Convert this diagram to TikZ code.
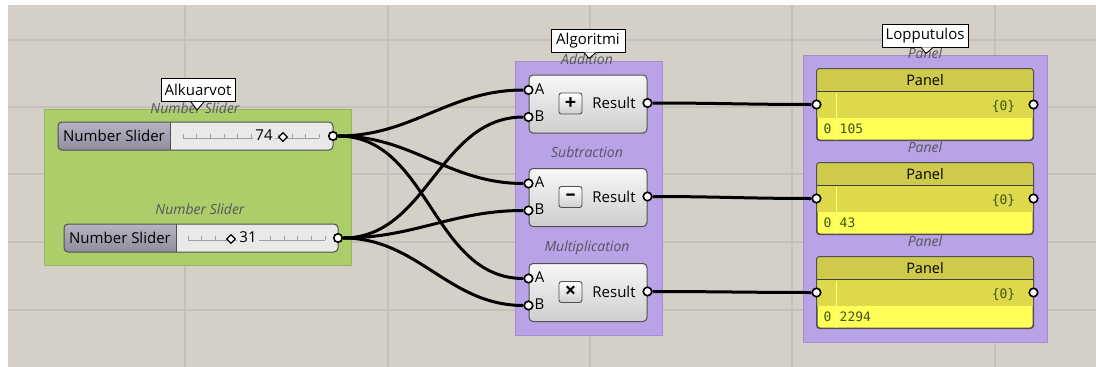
\documentclass[tikz,border=0pt]{standalone}
\usepackage{fontspec}
\setmainfont{Open Sans}
\setmonofont{DejaVu Sans Mono}
\usetikzlibrary{calc}

\definecolor{canvas}{RGB}{212,208,200}
\definecolor{gridline}{RGB}{197,193,185}
\definecolor{grpgreen}{RGB}{172,206,106}
\definecolor{grppurple}{RGB}{186,162,230}
\definecolor{comptop}{RGB}{247,247,247}
\definecolor{compbot}{RGB}{206,206,206}
\definecolor{compedge}{RGB}{80,80,80}
\definecolor{labtop}{RGB}{180,180,194}
\definecolor{labbot}{RGB}{142,142,158}
\definecolor{valbg}{RGB}{233,233,233}
\definecolor{panhead}{RGB}{207,202,76}
\definecolor{panmid}{RGB}{222,217,74}
\definecolor{panlow}{RGB}{255,255,88}
\definecolor{pantext}{RGB}{62,84,22}
\definecolor{capgray}{RGB}{85,85,95}

\tikzset{
  grp/.style={fill=#1, draw=#1!88!black, line width=0.8pt, inner sep=0pt},
  tag/.style={draw=black, fill=white, line width=0.9pt, inner sep=0pt,
    minimum height=23pt, font=\fontsize{15}{17}\selectfont},
  tagtail/.style={draw=black, fill=white, line width=0.9pt},
  caption/.style={font=\itshape\fontsize{14}{16}\selectfont, text=capgray, inner sep=0pt},
  comp/.style={draw=compedge, line width=1pt, rounded corners=4pt,
    top color=comptop, bottom color=compbot, minimum width=118pt,
    minimum height=58pt, inner sep=0pt},
  opbox/.style={draw=compedge, line width=0.9pt, rounded corners=2.5pt,
    top color=white, bottom color=compbot, minimum width=23pt,
    minimum height=21pt, inner sep=0pt, font=\bfseries\fontsize{20}{20}\selectfont},
  slider/.style={draw=compedge, line width=1pt, rounded corners=4pt,
    minimum height=28pt, inner sep=0pt},
  panel/.style={draw=compedge, line width=1pt, rounded corners=3pt,
    fill=panlow, minimum width=216pt, minimum height=71pt, inner sep=0pt},
  port/.style={circle, draw=black, fill=white, line width=1.6pt,
    inner sep=0pt, minimum size=8.5pt},
  wire/.style={line width=3pt, black},
  lbl/.style={font=\fontsize{15}{17}\selectfont, inner sep=0pt},
  paneltxt/.style={font=\ttfamily\fontsize{13}{15}\selectfont, text=pantext, inner sep=0pt},
  knob/.style={draw=black, fill=white, line width=1.3pt, rotate=45,
    minimum size=6pt, inner sep=0pt},
  track/.style={gray!75, line width=0.6pt},
}

\begin{document}
\begin{tikzpicture}[x=1pt, y=-1pt]
\useasboundingbox (0,0) rectangle (1096,367);
\fill[white] (0,0) rectangle (1096,367);
\fill[canvas] (8,5) rectangle (1096,367);
% canvas grid
\foreach \gx in {185,388,590,792,995}
  \draw[gridline, line width=1.2pt] (\gx,5) -- (\gx,367);
\foreach \gy in {40,107,174,242,310}
  \draw[gridline, line width=1.2pt] (8,\gy) -- (1096,\gy);

% groups
\node[grp=grpgreen, minimum width=307pt, minimum height=156pt] (inputs) at (197.5,187) {};
\node[grp=grppurple, minimum width=147pt, minimum height=274pt] (algo) at (588.5,198) {};
\node[grp=grppurple, minimum width=244pt, minimum height=287pt] (results) at (925,198.5) {};

% sliders
\node[caption] (s1cap) at (195,108) {Number Slider};
\node[caption] (s2cap) at (200,209) {Number Slider};

\begin{scope}
  \clip[rounded corners=4pt] (58,122) rectangle (333,150);
  \fill[valbg] (58,122) rectangle (333,150);
  \fill[top color=labtop, bottom color=labbot] (58,122) rectangle (170,150);
\end{scope}
\node[slider, minimum width=275pt] (s1) at (195.5,136) {};
\draw[compedge, line width=1pt] (170,122) -- (170,150);
\node[lbl] (s1lab) at (114,136) {Number Slider};
\draw[track] (183,138) -- (319,138);
\foreach \t in {0,...,10}
  \draw[track] ({183+13.6*\t},138) -- ++(0,-4);
\node[lbl, fill=valbg, inner xsep=2pt] (s1val) at (264,135) {74};
\node[knob] (s1knob) at (283,137) {};

\begin{scope}
  \clip[rounded corners=4pt] (64,224) rectangle (338,252);
  \fill[valbg] (64,224) rectangle (338,252);
  \fill[top color=labtop, bottom color=labbot] (64,224) rectangle (176,252);
\end{scope}
\node[slider, minimum width=274pt] (s2) at (201,238) {};
\draw[compedge, line width=1pt] (176,224) -- (176,252);
\node[lbl] (s2lab) at (120,238) {Number Slider};
\draw[track] (188,240) -- (325,240);
\foreach \t in {0,...,10}
  \draw[track] ({188+13.7*\t},240) -- ++(0,-4);
\node[lbl, fill=valbg, inner xsep=2pt] (s2val) at (248,237) {31};
\node[knob] (s2knob) at (231,239) {};

\node[port] (s1out) at (333,136) {};
\node[port] (s2out) at (338,238) {};

% operations
\foreach \cy/\op/\cname/\key in {104/+/Addition/add, 197.5/–/Subtraction/sub, 292.5/×/Multiplication/mul} {
  \node[caption] (\key cap) at (587,\cy-45) {\cname};
  \node[comp] (\key) at (588,\cy) {};
  \node[port] (\key A) at ($(\key.west)+(0,-14)$) {};
  \node[port] (\key B) at ($(\key.west)+(0,13)$) {};
  \node[port] (\key R) at ($(\key.east)+(0,-1)$) {};
  \node[lbl] (\key Alab) at ($(\key A)+(11,-1)$) {A};
  \node[lbl] (\key Blab) at ($(\key B)+(11,-1)$) {B};
  \node[opbox] (\key op) at ($(\key.center)+(-17.5,-0.5)$) {\op};
  \node[lbl] (\key res) at ($(\key.center)+(26,-1)$) {Result};
}

% panels
\foreach \py/\val [count=\i] in {104.5/105, 198.5/43, 292.5/2294} {
  \node[caption] (pan\i cap) at (925,\py-51.5) {Panel};
  \node[panel] (pan\i) at (925,\py) {};
  \begin{scope}
    \clip[rounded corners=3pt] (pan\i.north west) rectangle (pan\i.south east);
    \fill[panhead] (pan\i.north west) rectangle ($(pan\i.north east)+(0,23)$);
    \fill[panmid] ($(pan\i.north west)+(0,23)$) rectangle ($(pan\i.north east)+(0,49)$);
  \end{scope}
  \draw[panlow!70!white, line width=0.8pt] ($(pan\i.north west)+(20,24)$) -- ($(pan\i.south west)+(20,0)$);
  \draw[black!75, line width=1.5pt] ($(pan\i.north west)+(0,23)$) -- ($(pan\i.north east)+(0,23)$);
  \draw[compedge, line width=1pt, rounded corners=3pt] (pan\i.north west) rectangle (pan\i.south east);
  \node[lbl, font=\fontsize{14.5}{16}\selectfont] (pan\i head) at ($(pan\i.north)+(0,11.5)$) {Panel};
  \node[paneltxt] (pan\i path) at ($(pan\i.north east)+(-30,38)$) {\{0\}};
  \node[paneltxt] (pan\i idx) at ($(pan\i.north west)+(11,60)$) {0};
  \node[paneltxt, anchor=west] (pan\i val) at ($(pan\i.north west)+(23,60)$) {\val};
  \node[port] (pin\i) at (pan\i.west) {};
  \node[port] (pout\i) at (pan\i.east) {};
}

% wires
\draw[wire] (s1out) to[out=0,in=180] (addA);
\draw[wire] (s1out) to[out=0,in=180] (subA);
\draw[wire] (s1out) to[out=0,in=180] (mulA);
\draw[wire] (s2out) to[out=0,in=180] (addB);
\draw[wire] (s2out) to[out=0,in=180] (subB);
\draw[wire] (s2out) to[out=0,in=180] (mulB);
\draw[wire] (addR) to[out=0,in=180] (pin1);
\draw[wire] (subR) to[out=0,in=180] (pin2);
\draw[wire] (mulR) to[out=0,in=180] (pin3);

% tags
\node[tag, minimum width=74pt] (tagIn) at (198,90) {Alkuarvot};
\path[tagtail] ($(tagIn.south)+(-7,0)$) -- ++(6,8) -- ($(tagIn.south)+(6,0)$);
\node[tag, minimum width=74pt] (tagAlg) at (588,40.5) {Algoritmi};
\path[tagtail] ($(tagAlg.south)+(-4,0)$) -- ++(5,6) -- ($(tagAlg.south)+(8,0)$);
\node[tag, minimum width=86pt] (tagOut) at (925,35.5) {Lopputulos};
\path[tagtail] ($(tagOut.south)+(-4,0)$) -- ++(5,6) -- ($(tagOut.south)+(8,0)$);
\end{tikzpicture}
\end{document}
